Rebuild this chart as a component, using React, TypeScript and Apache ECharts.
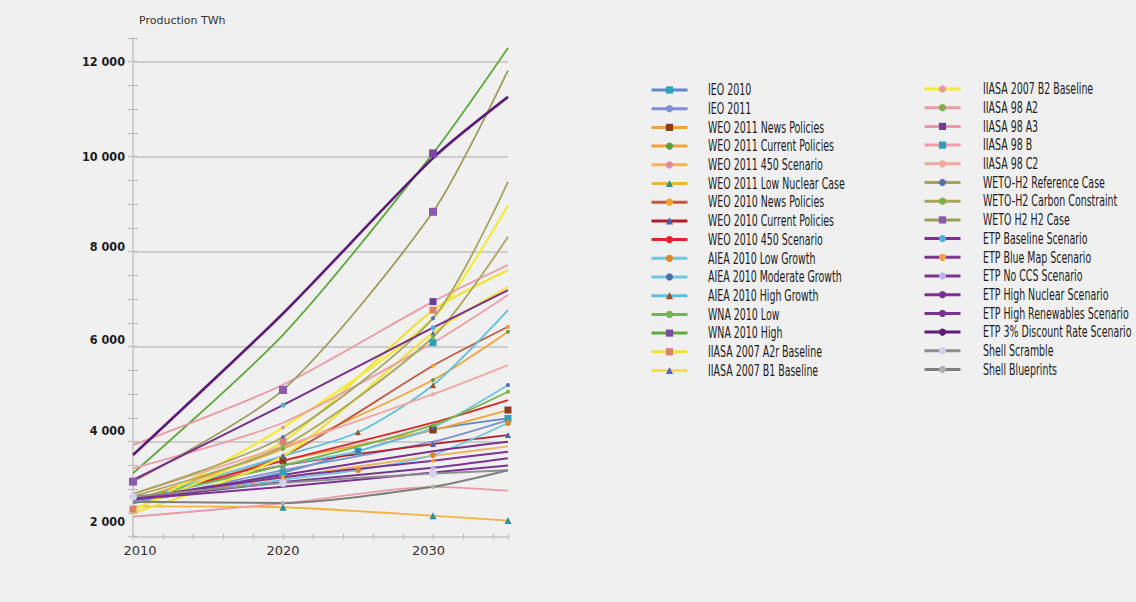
import React, { useEffect, useRef } from "react";
import * as echarts from "echarts";

// Projection years; null marks a year without a published value
const years = [2010, 2020, 2025, 2030, 2035];

// Nuclear electricity production, TWh
const ieo2010 = [2700, 3350, 3800, 4250, 4490];
const ieo2011 = [2720, 3400, null, 4000, 4456];
const weo2011News = [2760, 3600, null, 4250, 4667];
const weo2011Current = [2760, 3850, null, 5300, 6315];
const weo2011Scen450 = [2760, 3250, null, 3700, 3900];
const weo2011LowNuclear = [2640, 2620, null, 2440, 2340];
const weo2010News = [2750, 3700, null, 5600, 6420];
const weo2010Current = [2750, 3500, null, 3950, 4140];
const weo2010Scen450 = [2750, 3600, null, 4400, 4877];
const aiea2010Low = [2750, 3200, 3400, 3720, 4393];
const aiea2010Moderate = [2750, 3500, 3800, 4300, 5193];
const aiea2010High = [2750, 3700, 4200, 5190, 6770];
const wna2010Low = [2800, 3500, null, 4350, 5052];
const wna2010High = [3335, 6250, null, 10070, 12290];
const iiasa2007A2r = [2580, 4000, null, 6770, 7610];
const iiasa2007B1 = [2500, 3700, null, 6290, 7260];
const iiasa2007B2 = [2550, 4300, null, 6600, 8980];
const iiasa98A2 = [2420, 2700, null, 3050, 2970];
const iiasa98A3 = [3930, 5200, null, 6950, 7720];
const iiasa98B = [3440, 4400, null, 6085, 7090];
const iiasa98C2 = [2900, 3900, null, 5000, 5614];
const wetoRef = [2900, 4100, null, 6600, 9470];
const wetoCarbon = [2850, 3900, null, 6200, 8315];
const wetoH2 = [3160, 5090, null, 8840, 11820];
const etpBaseline = [3194, 4770, null, 6400, 7190];
const etpBlueMap = [2800, 3250, null, 3600, 3790];
const etpNoCcs = [2780, 3150, null, 3450, 3650];
const etpHighNuclear = [2800, 3300, null, 3800, 4000];
const etpHighRenewables = [2790, 3050, null, 3350, 3500];
const etpDiscount3 = [3720, 6700, null, 9970, 11260];
const shellScramble = [2842, 3130, null, 3330, 3400];
const shellBlueprints = [2737, 2709, null, 3052, 3400];

const leftNames = [
  "IEO 2010",
  "IEO 2011",
  "WEO 2011 News Policies",
  "WEO 2011 Current Policies",
  "WEO 2011 450 Scenario",
  "WEO 2011 Low Nuclear Case",
  "WEO 2010 News Policies",
  "WEO 2010 Current Policies",
  "WEO 2010 450 Scenario",
  "AIEA 2010 Low Growth",
  "AIEA 2010 Moderate Growth",
  "AIEA 2010 High Growth",
  "WNA 2010 Low",
  "WNA 2010 High",
  "IIASA 2007 A2r Baseline",
  "IIASA 2007 B1 Baseline",
];
const rightNames = [
  "IIASA 2007 B2 Baseline",
  "IIASA 98 A2",
  "IIASA 98 A3",
  "IIASA 98 B",
  "IIASA 98 C2",
  "WETO-H2 Reference Case",
  "WETO-H2 Carbon Constraint",
  "WETO H2 H2 Case",
  "ETP Baseline Scenario",
  "ETP Blue Map Scenario",
  "ETP No CCS Scenario",
  "ETP High Nuclear Scenario",
  "ETP High Renewables Scenario",
  "ETP 3% Discount Rate Scenario",
  "Shell Scramble",
  "Shell Blueprints",
];
const seriesValues = [
  ieo2010, ieo2011, weo2011News, weo2011Current, weo2011Scen450, weo2011LowNuclear,
  weo2010News, weo2010Current, weo2010Scen450, aiea2010Low, aiea2010Moderate,
  aiea2010High, wna2010Low, wna2010High, iiasa2007A2r, iiasa2007B1,
  iiasa2007B2, iiasa98A2, iiasa98A3, iiasa98B, iiasa98C2, wetoRef, wetoCarbon,
  wetoH2, etpBaseline, etpBlueMap, etpNoCcs, etpHighNuclear, etpHighRenewables,
  etpDiscount3, shellScramble, shellBlueprints,
];

// line colour, marker shape, marker colour, marker size, line width
type Look = [string, string, string, number, number];
const looks: Look[] = [
  ["#5b8ac6", "rect", "#2fa3b5", 7, 1.8],
  ["#7f8fd6", "none", "#7f8fd6", 0, 1.8],
  ["#f2a234", "rect", "#8c3b1c", 7, 1.8],
  ["#f0a43a", "circle", "#5aa040", 4, 1.8],
  ["#f3b25a", "circle", "#e48aa0", 4, 1.8],
  ["#f2b53a", "triangle", "#2a8f9f", 7, 1.8],
  ["#c25a40", "circle", "#f0a030", 4, 1.8],
  ["#b41c2c", "triangle", "#4a60b0", 6, 1.8],
  ["#e0242a", "none", "#e0242a", 0, 1.8],
  ["#6cc7e2", "circle", "#d8892a", 6, 1.8],
  ["#70c6df", "circle", "#4a6fb0", 4, 1.8],
  ["#5fc0dd", "triangle", "#a0502a", 6, 1.8],
  ["#76b545", "circle", "#76b545", 4, 1.8],
  ["#5fa83a", "rect", "#7b4aa0", 8, 1.8],
  ["#efe23a", "rect", "#d9826e", 7, 2.2],
  ["#f0e43c", "triangle", "#5068b0", 5, 2.2],
  ["#f3ec32", "circle", "#e09aa0", 4, 2.2],
  ["#ec9aa4", "circle", "#7bb04a", 4, 1.8],
  ["#eb98a6", "rect", "#6c3e9c", 7, 1.8],
  ["#ee9ea8", "rect", "#27a0b8", 7, 1.8],
  ["#f0a8a0", "circle", "#f0a8a0", 4, 1.8],
  ["#a6a35e", "circle", "#5a6fb8", 4, 1.8],
  ["#aaa65a", "circle", "#7bb04a", 4, 1.8],
  ["#9e9b5a", "rect", "#8a5ab0", 8, 1.8],
  ["#7a2e8e", "circle", "#4cb0d8", 5, 2],
  ["#7d3590", "circle", "#f0a040", 4, 2],
  ["#7b3492", "circle", "#b8b4e8", 5, 2],
  ["#7a3090", "none", "#7a3090", 0, 2],
  ["#7c3294", "none", "#7c3294", 0, 2],
  ["#5e1a78", "none", "#5e1a78", 0, 2.6],
  ["#8e8e8e", "circle", "#d4d0ec", 8, 2],
  ["#7e7e7e", "circle", "#b0b0b0", 4, 2],
];

// which series carry a marker on their first and last points
const markedAtStart = new Set(["IIASA 2007 A2r Baseline", "WETO H2 H2 Case", "Shell Scramble"]);
const markedAtEnd = new Set([
  "IEO 2010", "WEO 2011 News Policies", "WEO 2011 Current Policies", "WEO 2011 Low Nuclear Case",
  "WEO 2010 News Policies", "WEO 2010 Current Policies", "AIEA 2010 Low Growth",
  "AIEA 2010 Moderate Growth", "WNA 2010 Low",
]);
// intermediate points drawn without a marker
const unmarked = new Set(["WNA 2010 High@2020", "IIASA 98 A3@2020", "IIASA 98 B@2020"]);

const condensed = "DejaVu Sans Condensed, DejaVu Sans, sans-serif";
const thousands = (v: number) => String(v).replace(/\B(?=(\d{3})+(?!\d))/g, " ");
const ROW = 18.7;
const ICON_H = 7.2;

export default function App() {
  const ref = useRef<HTMLDivElement>(null);

  useEffect(() => {
    if (!ref.current) return;
    const chart = echarts.init(ref.current, undefined, { renderer: "svg" });
    const names = [...leftNames, ...rightNames];

    const series = names.map((name, i) => {
      const [line, symbol, markerColor, size, width] = looks[i];
      const pts = years
        .map((y, k) => (seriesValues[i][k] == null ? null : [y, seriesValues[i][k] as number]))
        .filter((p) => p !== null) as number[][];
      const data = pts.map((p, k) => {
        const hide =
          (k === 0 && !markedAtStart.has(name)) ||
          (k === pts.length - 1 && !markedAtEnd.has(name)) ||
          unmarked.has(`${name}@${p[0]}`);
        return hide ? { value: p, symbol: "none" } : { value: p };
      });
      return {
        name,
        type: "line",
        data,
        smooth: 0.25,
        symbol,
        symbolSize: size,
        showSymbol: symbol !== "none",
        lineStyle: { color: line, width },
        itemStyle: { color: markerColor, borderWidth: 0 },
        color: line,
        emphasis: { disabled: true },
        silent: true,
        xAxisIndex: 0,
        yAxisIndex: 0,
      };
    });

    const legendBase = {
      orient: "vertical",
      padding: 0,
      itemWidth: 36,
      itemHeight: 9,
      itemGap: ROW - ICON_H,
      selectedMode: false,
      formatter: () => "",
      lineStyle: { width: 3 },
      textStyle: { fontSize: 9, lineHeight: 9 },
    };

    // legend labels set in a condensed face
    const labelTexts = (list: string[], x: number, y0: number) =>
      list.map((t, i) => ({
        type: "text",
        x,
        y: y0 + i * ROW,
        scaleX: 0.7,
        silent: true,
        style: {
          text: t,
          fontFamily: condensed,
          fontSize: 15,
          fill: "#1a1a1a",
          verticalAlign: "middle",
          align: "left",
        },
      }));

    const crossTicks = (inside: boolean) => ({
      type: "value",
      position: "left",
      min: 2000,
      max: 12500,
      interval: 500,
      axisLine: { show: false },
      axisLabel: { show: false },
      splitLine: { show: false },
      axisTick: { show: true, inside, length: 5, lineStyle: { color: "#bdbdbd", width: 1.2 } },
    });

    const xTicks = (inside: boolean) => ({
      type: "value",
      position: "bottom",
      min: 2010,
      max: 2035,
      interval: 2,
      axisLine: { show: false },
      axisLabel: { show: false },
      splitLine: { show: false },
      axisTick: { show: true, inside, length: 3, lineStyle: { color: "#bdbdbd", width: 1.2 } },
    });

    chart.setOption({
      animation: false,
      backgroundColor: "#f0f0f0",
      grid: { left: 133, right: 628, top: 38, bottom: 65.3, containLabel: false },
      legend: [
        { ...legendBase, left: 650, top: 90 - ICON_H / 2, data: leftNames },
        { ...legendBase, left: 923, top: 89 - ICON_H / 2, data: rightNames },
      ],
      graphic: [...labelTexts(leftNames, 708, 90), ...labelTexts(rightNames, 983, 89)],
      xAxis: [
        {
          type: "value",
          position: "bottom",
          min: 2010,
          max: 2035,
          interval: 2,
          axisLine: { show: true, lineStyle: { color: "#c4c4c4", width: 1.5 } },
          axisTick: { show: false },
          splitLine: { show: false },
          axisLabel: {
            margin: 7,
            fontFamily: "DejaVu Sans, sans-serif",
            fontSize: 13,
            color: "#333",
            showMaxLabel: false,
            formatter: (v: number) => (v % 10 === 0 ? `{x${v}|${v}}` : ""),
            rich: {
              x2010: { padding: [0, 0, 0, 14] },
              x2020: {},
              x2030: { padding: [0, 9, 0, 0] },
            },
          },
        },
        xTicks(false),
        xTicks(true),
      ],
      yAxis: [
        {
          type: "value",
          position: "left",
          min: 2000,
          max: 12500,
          interval: 2000,
          name: "Production TWh",
          nameLocation: "end",
          nameGap: 12,
          nameTextStyle: {
            align: "left",
            padding: [0, 0, 0, 6],
            fontFamily: "DejaVu Sans, sans-serif",
            fontSize: 11,
            color: "#333",
          },
          axisLine: { show: true, lineStyle: { color: "#c4c4c4", width: 1.5 } },
          axisTick: { show: false },
          splitLine: {
            show: true,
            showMaxLine: false,
            showMinLine: false,
            lineStyle: { color: "#cdcdcd", width: 1.8 },
          },
          axisLabel: {
            margin: 8,
            fontFamily: condensed,
            fontWeight: "bold",
            fontSize: 12.5,
            color: "#1c1c1c",
            showMaxLabel: false,
            formatter: (v: number) => `{y${v}|${thousands(v)}}`,
            rich: {
              y2000: { padding: [0, 0, 30, 0] },
              y4000: { padding: [0, 0, 23, 0] },
              y6000: { padding: [0, 0, 15, 0] },
              y8000: { padding: [0, 0, 10, 0] },
              y10000: {},
              y12000: {},
            },
          },
        },
        crossTicks(false),
        crossTicks(true),
      ],
      series,
    });

    return () => chart.dispose();
  }, []);

  return (
    <div
      ref={ref}
      style={{ position: "fixed", left: 0, top: 0, width: 1136, height: 602, background: "#f0f0f0" }}
    />
  );
}
